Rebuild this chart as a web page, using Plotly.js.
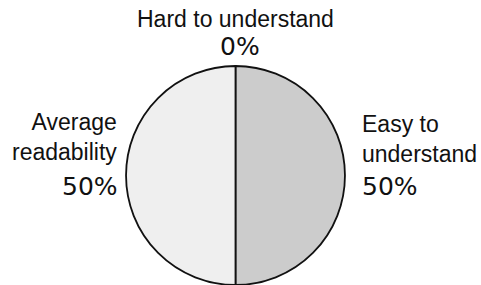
<!DOCTYPE html>
<html>
<head>
<meta charset="utf-8">
<script src="https://cdn.plot.ly/plotly-3.0.1.min.js"></script>
<style>html,body{margin:0;padding:0;background:#fff;}#chart{width:481px;height:285px;}</style>
</head>
<body>
<div id="chart"></div>
<script>
const categories = ["Hard to understand", "Easy to understand", "Average readability"];
const displayLabels = ["Hard to understand", "Easy to<br>understand", "Average<br>readability"];
const values = [0, 50, 50];
const sliceColors = ["#999999", "#cccccc", "#efefef"];

const W = 481, H = 285;
const px = x => x / W;
const py = y => 1 - y / H;
const total = values.reduce((a, b) => a + b, 0);
const pct = values.map(v => Math.round(v / total * 100) + "%");

const labelFont = {family: "Liberation Sans, Arial, sans-serif", size: 23, color: "#111"};
const pctFont = {family: "DejaVu Sans, sans-serif", size: 25, color: "#111"};

// label placements (pixel positions) : [x, yCenter, xanchor, align]
const labelPos = [
  [235, 19.5, "center", "center"],
  [360, 138.5, "left", "left"],
  [119, 137.5, "right", "right"]
];
const pctPos = [
  [240, 46.5, "center"],
  [360, 186.5, "left"],
  [120, 186.5, "right"]
];

const annotations = [];
categories.forEach((c, i) => {
  annotations.push({
    xref: "paper", yref: "paper", x: px(labelPos[i][0]), y: py(labelPos[i][1]),
    xanchor: labelPos[i][2], yanchor: "middle", align: labelPos[i][3],
    text: displayLabels[i], showarrow: false, font: labelFont
  });
  annotations.push({
    xref: "paper", yref: "paper", x: px(pctPos[i][0]), y: py(pctPos[i][1]),
    xanchor: pctPos[i][2], yanchor: "middle",
    text: pct[i], showarrow: false, font: pctFont
  });
});

const data = [{
  type: "pie",
  labels: categories,
  values: values,
  sort: false,
  direction: "clockwise",
  rotation: 0,
  textinfo: "none",
  hoverinfo: "none",
  marker: {colors: sliceColors, line: {color: "#111", width: 1.8}},
  domain: {x: [0, 471 / W], y: [0, 219 / H]}
}];

const layout = {
  width: W, height: H,
  margin: {l: 0, r: 0, t: 0, b: 0},
  paper_bgcolor: "#fff",
  showlegend: false,
  annotations: annotations
};

Plotly.newPlot("chart", data, layout, {staticPlot: true, displayModeBar: false});
</script>
</body>
</html>
